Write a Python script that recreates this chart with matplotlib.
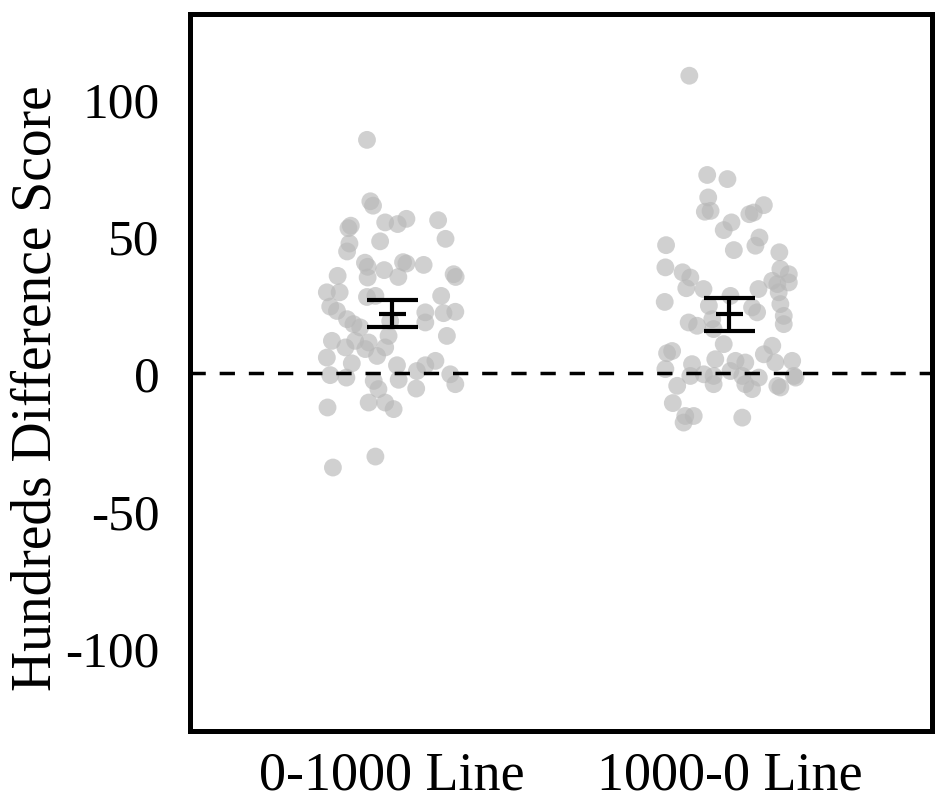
import matplotlib
matplotlib.use("Agg")
import matplotlib.pyplot as plt
import numpy as np

categories = ["0-1000 Line", "1000-0 Line"]

scores_0_1000 = [85.1, 62.7, 61.1, 55.0, 54.4, 56.3, 52.9, 53.8, 55.8, 49.0,
                 48.1, 47.3, 44.4, 40.3, 38.8, 37.6, 40.5, 40.0, 39.5, 35.5,
                 34.9, 35.1, 36.1, 35.1, 29.5, 29.5, 27.8, 28.2, 28.2, 24.3,
                 22.7, 22.2, 18.5, 21.9, 22.4, 19.7, 17.9, 16.7, 13.6, 13.6,
                 11.8, 9.4, 11.8, 11.2, 8.8, 6.3, 9.4, 5.7, 3.6, 2.9,
                 2.9, 4.5, 0.8, -0.7, -1.6, -2.8, -2.4, -0.4, -4.0, -5.8,
                 -5.6, -10.7, -10.7, -13.1, -12.5, -30.4, -34.4, 19.0]
jitter_0_1000 = [-0.075, -0.065, -0.057, -0.021, 0.016, 0.042, -0.130, -0.123, 0.136, 0.158,
                 -0.036, -0.127, -0.134, -0.081, -0.073, -0.024, 0.032, 0.042, 0.093, -0.162,
                 -0.073, 0.018, 0.182, 0.188, -0.194, -0.156, -0.075, -0.050, 0.145, -0.184,
                 -0.164, 0.098, 0.098, 0.152, 0.187, -0.134, -0.115, -0.095, -0.011, 0.162,
                 -0.179, -0.139, -0.110, -0.070, -0.080, -0.045, -0.021, -0.194, -0.120, 0.014,
                 0.098, 0.128, 0.073, -0.184, -0.136, -0.055, 0.019, 0.172, 0.187, -0.041,
                 0.071, -0.070, -0.021, 0.004, -0.192, -0.050, -0.176, -0.006]

scores_1000_0 = [108.5, 72.3, 70.8, 64.1, 58.9, 59.2, 61.3, 58.0, 58.6, 55.0,
                 52.2, 49.5, 46.5, 46.7, 44.9, 44.1, 38.6, 36.8, 34.9, 38.0,
                 36.1, 33.7, 31.0, 30.7, 30.7, 26.0, 28.2, 32.5, 29.5, 33.1,
                 24.6, 22.2, 24.0, 25.2, 20.9, 17.9, 18.5, 17.3, 19.7, 16.1,
                 10.6, 10.0, 7.3, 8.1, 6.9, 5.1, 4.5, 3.9, 3.9, 4.5,
                 3.3, 1.5, 0.8, -0.4, -1.0, -1.0, -1.0, -1.6, -1.0, -1.6,
                 -4.6, -4.0, -4.0, -5.8, -4.6, -5.2, -10.9, -15.6, -15.6, -18.0,
                 -16.2]
jitter_1000_0 = [-0.119, -0.066, -0.006, -0.063, -0.073, -0.056, 0.102, 0.059, 0.072, 0.006,
                 -0.017, 0.089, 0.077, -0.188, 0.013, 0.148, -0.190, -0.139, -0.116, 0.151,
                 0.176, 0.127, -0.128, -0.077, 0.086, -0.192, 0.003, 0.142, 0.146, 0.176,
                 -0.061, 0.082, 0.067, 0.151, 0.161, 0.161, -0.121, -0.096, -0.051, -0.047,
                 -0.017, 0.127, -0.185, -0.170, 0.102, -0.042, 0.018, 0.047, 0.136, 0.186,
                 -0.111, -0.190, 0.003, -0.076, -0.047, -0.116, 0.038, 0.087, 0.191, 0.196,
                 -0.155, -0.047, 0.047, 0.067, 0.142, 0.151, -0.168, -0.131, -0.106, -0.136,
                 0.038]

means = [21.5, 21.5]
ci_lower = [16.7, 15.5]
ci_upper = [26.8, 27.3]

yticks = [-100, -50, 0, 50, 100]

plt.rcParams['font.family'] = ['Liberation Serif', 'DejaVu Serif']

fig = plt.figure(figsize=(9.45, 8.12), dpi=100)
ax = fig.add_axes([0.201, 0.0985, 0.785, 0.883])

positions = np.arange(1, len(categories) + 1)
groups = [(scores_0_1000, jitter_0_1000), (scores_1000_0, jitter_1000_0)]
for pos, (vals, jit) in zip(positions, groups):
    ax.scatter(pos + np.array(jit), vals, s=165, color='#b8b8b8', alpha=0.65,
               edgecolors='none', zorder=2)

ax.axhline(0, color='black', lw=2.5, linestyle=(0, (4.4, 4.0)), zorder=3)

cap_half = 0.075
mean_half = 0.04
ax.vlines(positions, ci_lower, ci_upper, color='black', lw=3, zorder=4)
ax.hlines(ci_lower, positions - cap_half, positions + cap_half, color='black', lw=3, zorder=4)
ax.hlines(ci_upper, positions - cap_half, positions + cap_half, color='black', lw=3, zorder=4)
ax.hlines(means, positions - mean_half, positions + mean_half, color='black', lw=3, zorder=4)

ax.set_xlim(0.4, 2.6)
ax.set_ylim(-130.5, 131)
ax.set_xticks(positions)
ax.set_xticklabels(categories, fontsize=39)
ax.set_yticks(yticks)
ax.set_yticklabels([str(t) for t in yticks], fontsize=37)
ax.tick_params(axis='both', length=0)
ax.tick_params(axis='y', pad=22)
ax.tick_params(axis='x', pad=14)

for sp in ax.spines.values():
    sp.set_linewidth(3.6)
    sp.set_color('black')

ax.set_ylabel("Hundreds Difference Score", fontsize=40)
ax.yaxis.set_label_coords(-0.172, 0.48)

fig.savefig("out.png", dpi=100)
